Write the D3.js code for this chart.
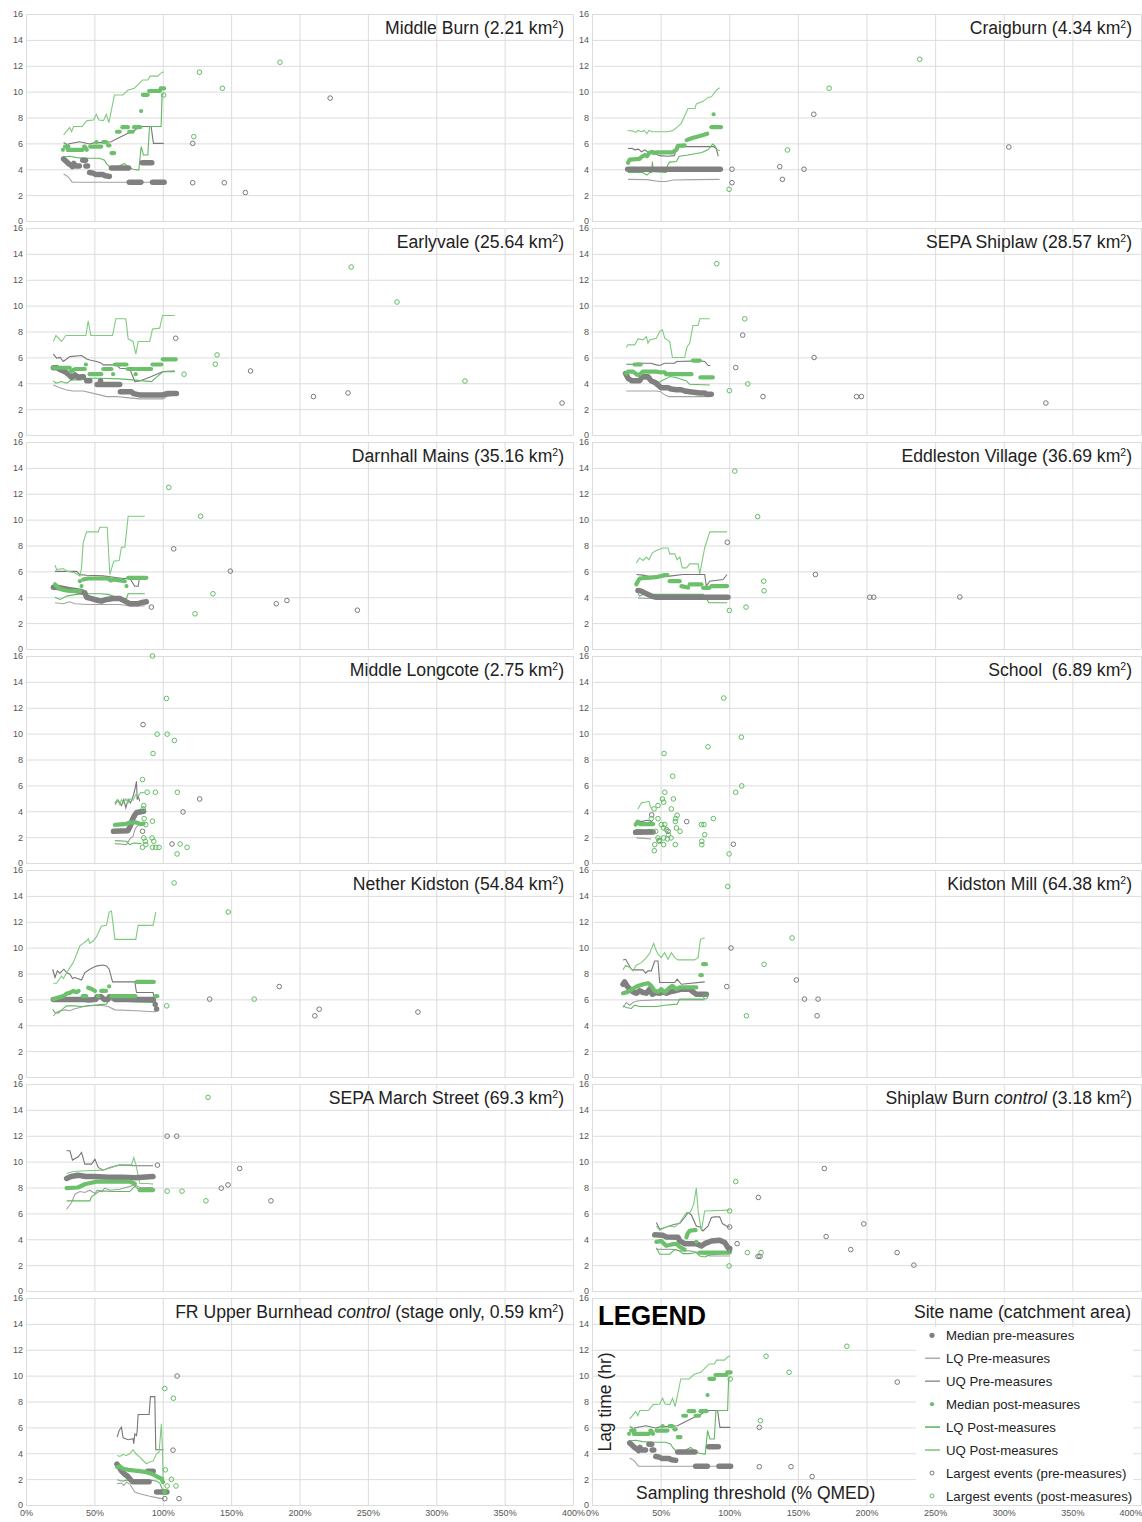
<!DOCTYPE html>
<html><head><meta charset="utf-8">
<script src="https://cdn.jsdelivr.net/npm/d3@7"></script>
<style>body{margin:0;background:#fff}svg{display:block;font-family:"Liberation Sans",Arial,Helvetica,sans-serif}</style>
</head><body><svg id="c" width="1142" height="1522"></svg>
<script>
// ---------- DATA ----------
const siteNames = ["Middle Burn","Craigburn","Earlyvale","SEPA Shiplaw","Darnhall Mains","Eddleston Village","Middle Longcote","School ","Nether Kidston","Kidston Mill","SEPA March Street","Shiplaw Burn","FR Upper Burnhead"];
const siteItalic = ["","","","","","","","","","","","control","control"];
const siteNote = ["","","","","","","","","","","","","stage only, "];
const siteAreas = ["2.21","4.34","25.64","28.57","35.16","36.69","2.75","6.89","54.84","64.38","69.3","3.18","0.59"];
const xTicks = [0,50,100,150,200,250,300,350,400];
const yTicks = [0,2,4,6,8,10,12,14,16];
const legendLabels = ["Median pre-measures","LQ Pre-measures","UQ Pre-measures","Median post-measures","LQ Post-measures","UQ Post-measures","Largest events (pre-measures)","Largest events (post-measures)"];

// median series: lists of runs of [threshold %, lag hr]
const preMedian = [
 [[[27.5,4.8],[29.5,4.6],[31,4.45],[33,4.3],[34,4.2],[35,4.45],[36,4.25],[39,4.25]],[[41.5,4.7],[43.5,4.7]],[[43.8,4.25],[45,4.25]],[[46.5,3.75],[49,3.7],[51,3.6],[56,3.6],[58,3.5],[61,3.45]],[[62.5,4.1],[75,4.1]],[[75.5,3.0],[84,3.0]],[[85,4.5],[92,4.5]],[[92.5,3.0],[101,3.0]]],
 [[[26,4.0],[93.5,4.0]]],
 [[[20,5.2],[22.5,5.2],[25,5.05],[28.5,4.9],[31,4.7],[33.3,4.45],[35.8,4.65],[38.2,4.45],[40.6,4.5],[42,4.5]],[[44.3,4.2],[46.7,4.2]],[[54.5,4.2]],[[52,3.9],[68.5,3.9]],[[69,3.35],[77,3.35],[78.5,3.2],[83,3.1],[100,3.1],[103,3.2],[110,3.2]]],
 [[[24.5,4.75],[26.2,4.4],[28.7,4.2],[34.8,4.2],[36.5,4.5],[40.8,4.5],[43,4.2],[46,4.05],[48,3.87],[50.5,3.65],[55.4,3.65],[57.8,3.55],[61.5,3.5],[65,3.5],[67.6,3.4],[71.2,3.35],[78.5,3.25],[82,3.25],[83.5,3.15],[86.9,3.15]]],
 [[[20,4.78],[23.6,4.75],[27.3,4.68],[30.9,4.6],[34.5,4.55],[39.4,4.47],[43,4.34],[44.3,4.0],[47.9,3.9],[52.8,3.75],[55.2,3.7],[58.9,3.83],[63.7,3.9],[68.6,3.9],[72.3,3.7],[75.9,3.5],[82,3.5],[84,3.57],[88,3.65]]],
 [[[33.5,4.52],[36,4.47],[38.4,4.34],[43.2,4.09],[46.9,4.0],[99.1,4.0]]],
 [[[64,2.45],[74.5,2.5],[76,2.8],[78,3.4],[79.5,3.7],[81,3.9],[86,4.0]]],
 [[[31.8,2.37],[44.5,2.4]]],
 [[[20,6.0],[40,6.0],[46,5.95],[51,6.0],[52,6.2],[55,6.2],[57,6.0],[60,6.0],[61,6.2],[64,6.2],[65,6.0],[93,6.0]],[[94.5,5.6]],[[95.5,5.25]]],
 [[[22.6,7.17],[23.8,7.35],[25.5,7.04],[27.5,6.79],[29.9,6.58],[32.3,6.48],[34.7,6.66],[37.2,6.53],[39.6,6.48],[42,6.79],[44,6.4],[46.4,6.53],[49.3,6.48],[51.8,6.58],[54.2,6.48],[56.6,6.58],[60.3,6.66],[65.1,6.79],[71.2,6.79],[73.6,6.58],[76,6.4],[83.3,6.4]]],
 [[[29.7,8.7],[33,8.85],[38,8.95],[44,8.85],[50,8.85],[60,8.8],[70,8.8],[80,8.75],[92.9,8.85]]],
 [[[45.7,4.34],[51.8,4.3],[54.2,4.18],[62.7,4.15],[63.9,3.87],[67.5,3.66],[76,3.66],[79.7,3.48],[82.1,3.66],[87,3.87],[93,3.92],[96.7,3.74],[99.1,3.35],[100.3,3.3]]],
 [[[66.5,3.15],[68,2.95],[70,2.6],[72,2.4],[74,2.25],[76,2.0],[78,1.8],[90,1.8]],[[89,2.6],[93,2.6]],[[95.5,1.0],[103,1.0]]]
];
const preLQ = [
 [[27.5,3.63],[30.7,3.43],[33.8,3.0],[83,3.0],[100.7,3.0]],
 [[26.2,3.22],[40,3.2],[49,3.05],[54,3.05],[59,3.17],[75,3.2],[93,3.22]],
 [[20,3.87],[24.8,3.66],[29.7,3.48],[34.5,3.4],[41.8,3.4],[54,3.1],[58.9,2.97],[66.2,2.97],[73.5,2.89],[83.2,2.79],[100.2,2.79],[103,2.97],[108.8,3.1]],
 [[25,3.4],[47,3.4],[50,3.35],[53,3.1],[56,2.97],[86,2.97]],
 [[21.2,3.57],[27.3,3.5],[32,3.65],[35.8,3.5],[44.3,3.44],[68.6,3.44],[75.9,3.32],[86.9,3.32]],
 [[33.5,3.95],[40,3.9],[46.9,3.95],[98.4,3.95]],
 [[65,1.5],[73.5,1.42],[75.9,1.86],[78.3,2.06],[79.6,2.58],[80.8,2.79],[83.2,2.97]],
 [[32.3,1.94],[38,1.9],[43.2,1.85]],
 [[20,4.73],[22.4,4.99],[24.8,5.12],[28.5,5.19],[32.1,5.12],[34.5,5.24],[39.4,5.37],[44.3,5.5],[54,5.55],[60.1,5.45],[65,5.19],[80.8,5.12],[92.9,5.04],[95.4,5.04]],
 [[22.6,5.37],[25,5.76],[27.5,5.55],[29.9,5.76],[33.5,5.89],[46.9,5.96],[82.1,5.96]],
 [[29.7,6.32],[33.3,6.84],[35.8,7.48],[39.4,7.69],[43,7.61],[46.7,7.79],[50.4,7.54],[52,7.79],[55.2,7.69],[57.7,7.95],[61.3,7.79],[68.6,7.87],[79.6,8.2],[83.2,8.0],[92.9,8.0]],
 [[46.9,3.22],[59,3.22],[63.9,3.1],[71.2,3.1],[78.5,2.97],[85.8,2.71],[100.3,2.71]],
 [[66.7,1.65],[69.8,1.7],[71.5,1.52],[73.5,1.77],[76,1.6],[79.6,1.0],[83.2,0.87],[90.5,0.67],[95.4,0.57],[99,0.49],[100.7,0.49]]
];
const preUQ = [
 [[27.5,6.06],[29.5,5.95],[30.2,5.35],[30.9,5.95],[39.2,6.13],[46.5,5.95],[50.2,6.06],[56.2,6.06],[62.3,6.13],[67.2,6.39],[74.5,6.78],[78.1,6.9],[83,7.3],[91.5,7.3],[93.2,6.0],[100.7,6.0]],
 [[26.2,5.6],[29,5.62],[31,5.5],[34,5.55],[36,5.35],[38.5,5.5],[41,5.3],[45,5.25],[49.3,5.05],[55,5.0],[60,5.05],[62,5.7],[65,5.75],[88.5,5.75],[90.5,5.6],[92,5.0]],
 [[20,6.25],[22.4,5.94],[25,6.0],[27.3,5.68],[32.1,6.06],[40.6,6.14],[44.3,5.88],[46.7,5.8],[51.6,5.68],[55.2,5.55],[56.4,5.42],[66.2,5.42],[68.6,5.16],[75.9,5.1],[79.6,4.13],[83.2,4.18],[91.7,4.52],[100.2,4.9],[108.8,4.95]],
 [[25,5.47],[31.1,5.47],[33.5,5.55],[43,5.55],[46.9,5.42],[49.3,5.37],[53,5.55],[60.3,5.55],[61.5,5.68],[78.5,5.73],[82.1,5.68],[84.6,5.37],[86.2,5.37]],
 [[21.2,6.0],[37,6.0],[39.4,5.75],[44.3,5.7],[56.4,5.65],[71,5.45],[76,5.45],[79.5,4.85],[82,4.85],[83,5.5],[86.9,5.5]],
 [[32.3,5.76],[37,5.71],[44.5,5.55],[56.6,5.63],[66.3,5.76],[82.1,5.76],[83.3,4.86],[85.8,5.24],[95.5,5.37],[98.4,5.76]],
 [[65,4.52],[67.4,4.85],[69.8,4.44],[71.5,4.9],[73,4.26],[74.7,4.9],[76.4,4.65],[78.3,5.16],[79.6,5.68],[80.8,6.32],[81.3,4.9],[82,5.16],[83.2,4.77]],
 [[32,3.3],[36,3.2],[40,3.3],[44,3.2]],
 [[19.5,8.33],[21.2,7.69],[22.9,8.2],[24.8,8.02],[27.7,8.33],[29.7,8.07],[32.1,7.94],[34,7.61],[35.8,7.69],[40.6,7.5],[43,8.07],[46.7,8.33],[49.1,8.46],[52,8.59],[56.4,8.66],[58.9,8.59],[60.8,8.33],[63.3,7.35],[79.6,7.35],[80.8,6.53],[92.9,6.53],[94.9,5.76]],
 [[22.6,9.05],[24.5,9.1],[27,8.64],[28.7,8.33],[30.4,8.28],[37.2,8.28],[39.1,8.02],[40.8,8.2],[43.2,8.2],[45.7,8.97],[48.1,8.97],[49.3,7.3],[60.3,7.3],[62,7.56],[65.1,7.17],[82.1,7.35]],
 [[29.7,10.84],[32.1,10.84],[34,10.12],[38.2,10.37],[40.6,10.71],[43,9.81],[47.9,9.81],[50.4,10.19],[52.8,9.55],[56.4,9.34],[61.3,9.55],[68.6,9.75],[79.6,9.68],[92.9,9.68]],
 [[46.9,5.29],[49.3,4.77],[54.2,4.95],[60.3,5.16],[63.9,5.21],[67.5,5.68],[70,6.06],[72.4,5.88],[76,5.03],[78.5,4.95],[80.9,4.65],[84.6,5.03],[87,5.68],[89.4,5.73],[93,5.73],[95,5.21],[97.9,5.03],[100.3,4.95]],
 [[66.7,5.24],[68.1,5.76],[69.8,6.02],[71,5.19],[74.7,5.04],[78.3,5.12],[78.8,4.73],[79.6,5.5],[80.8,5.37],[81.3,5.76],[82,6.99],[90,6.99],[91,8.38],[94.2,8.38],[94.9,4.27],[100.7,4.27]]
];
const postMedian = [
 [[[27,5.5]],[[28.5,5.75],[31,5.75]],[[30.5,5.5],[41.5,5.5]],[[42.5,5.75],[43,5.75],[44.5,5.5]],[[47,5.75],[55,5.75]],[[51.5,6.1]],[[56.5,6.1],[58.5,6.1]],[[60,5.85],[61,5.85]],[[62.5,5.25],[64.5,5.25]],[[66.5,6.9],[68.5,6.9]],[[70.5,7.25],[74.5,7.25]],[[75.5,6.9],[78,6.9]],[[79,7.25],[83.5,7.25]],[[84.2,8.5]],[[85.5,9.75],[89,9.75]],[[90,10.05],[98,10.05]],[[98.5,10.25],[101,10.25]]],
 [[[26.2,4.5],[27.5,4.75],[34.5,4.8],[36,4.95],[38.5,5.1],[40,5.0],[41.5,5.25],[44,5.35],[45,5.25],[46.5,5.3],[58.5,5.3],[61.5,5.5],[62.5,5.8],[67.5,5.85]],[[69,6.25],[72.5,6.4],[76,6.5],[81,6.65],[84,6.75]],[[87,7.25],[94,7.25]],[[88.6,8.25]]],
 [[[20,5.2],[32,5.2]],[[32.5,4.9],[35,5.05],[36.5,5.1],[43,5.1]],[[43.8,5.45]],[[46.5,4.7],[55,4.7]],[[56.5,5.1],[62.5,5.1]],[[63.7,4.7]],[[65,5.45],[73.5,5.45]],[[74.5,5.1],[79.5,5.1]],[[80.2,4.7]],[[81,5.1],[91.5,5.1]],[[92.5,5.45],[99,5.45]],[[100,5.85],[109.5,5.85]]],
 [[[24.8,4.75],[26.2,4.9],[30,4.9],[33,4.65],[35,4.7],[37,4.9],[47,4.9],[49,4.85],[53,4.85],[54,4.7],[72.5,4.7]],[[31,5.45],[35.5,5.45]],[[73.5,5.75],[78.5,5.75]],[[79,4.45],[88,4.45]]],
 [[[21.2,5.0],[23.6,4.73],[26,4.6],[29.7,4.52],[34.5,4.47],[39.4,4.47]],[[40.6,4.86]],[[39.4,5.24]],[[41.8,5.37],[45.5,5.45],[60,5.45],[62,5.3],[64.2,5.37],[68.6,5.3],[72.3,5.24]],[[73.5,4.86]],[[74.7,5.5],[88,5.5]]],
 [[[32.3,5.0],[33.5,5.24],[34.7,5.45],[39.6,5.5],[46.9,5.55],[53,5.71],[55,5.71]],[[56.6,5.24],[63.9,5.24]],[[65.1,4.86],[70,4.75]],[[71.2,5.0],[79.7,5.0]],[[81,4.73],[85.5,4.73]],[[87,4.86],[98.4,4.86]]],
 [[[65,2.95],[72,3.0],[75,3.1],[80,3.15],[84,3.0],[86,3.05]]],
 [[[31.8,2.97],[33.5,3.2],[35,3.0],[44.5,3.0]]],
 [[[20,6.0],[23.6,6.15],[27.3,6.25],[29.7,6.45],[32,6.5],[34.5,6.65],[37,6.55],[38.5,6.65]],[[41.5,6.25],[44,6.25]],[[45.5,6.9],[48,6.8],[50.5,6.65]],[[52.8,6.25]],[[55,6.65],[58.5,6.65]],[[60.8,7.0]],[[62.5,6.25],[80,6.25]],[[81,7.35],[93.5,7.35]],[[95,6.25],[96,6.25]]],
 [[[22.6,6.48],[26.2,6.58],[29.9,6.84],[33.5,7.04],[37.2,7.17],[40.8,7.25],[43.2,7.04],[45.7,6.66],[48.1,6.58],[50.5,6.79],[53,6.53],[56.6,6.92],[58.6,7.04],[61.5,6.79],[63.9,6.92],[76,6.92]],[[79,7.87],[80,7.87]],[[81,8.72],[83,8.72]]],
 [[[29.7,7.95],[38,8.0],[43,8.25],[47,8.35],[51.6,8.45],[76,8.45],[79.6,8.3]],[[83,7.8],[93,7.8]]],
 [[[46.9,3.8],[50.5,3.87],[54,3.5],[58,3.6],[61.5,3.65],[64,3.4],[67.5,3.2]],[[68.8,4.15],[69.5,4.4],[71.2,4.65],[73.5,4.7],[75.5,4.7]],[[76,3.8]],[[78.5,2.97],[100.3,2.97]]],
 [[[66.7,2.93],[68.6,2.98],[71,2.8],[74.7,2.72],[78.3,2.67],[83.2,2.62],[88,2.54],[91.7,2.42],[94.2,2.29],[96.6,2.16],[99,2.03],[100.2,1.77]],[[101.5,1.0]]]
];
const postLQ = [
 [[28.2,4.97],[31.9,5.0],[36.8,4.9],[44.5,4.85],[53.8,4.85],[57.4,4.7],[58.7,4.45],[62.3,4.07],[64.7,4.07],[72,4.45],[74.5,4.2],[78.1,4.0],[82.5,3.94],[84.2,5.75],[85.9,5.1],[89.1,5.1],[90.3,7.3],[98.8,7.3],[99.5,9.74],[100.7,9.87]],
 [[26.2,3.75],[37,3.75],[40,3.55],[42,3.75],[43.5,3.75],[44,4.6],[44.7,3.8],[54,3.75],[55,4.3],[56.5,4.55],[61.5,4.6],[63.5,5.0],[70,5.1],[80,5.3],[84.5,5.5],[88,5.95],[89.5,5.8],[91,5.5],[93,5.45]],
 [[20,4.18],[21.9,4.0],[26,4.13],[29.7,4.0],[33.3,4.26],[40.6,4.26],[44.3,4.39],[54,4.39],[68.6,4.34],[78.3,4.26],[91.7,4.13],[100.2,4.9],[108.8,4.9]],
 [[25,4.26],[30,4.18],[34.8,4.39],[39.6,4.34],[43,4.26],[49.3,4.08],[51.8,4.26],[54,4.34],[56.6,4.52],[61,4.44],[68.8,4.18],[71.2,3.92],[85.8,3.87]],
 [[21.2,4.0],[24.8,3.83],[29.7,4.09],[37,4.22],[44.3,4.27],[54,4.27],[60.1,4.22],[68.6,3.9],[73.5,3.9],[74.7,4.27],[86.9,4.27]],
 [[33.5,4.27],[34.7,4.1],[37,4.22],[46.9,4.22],[81,4.22],[85.3,3.57],[98.4,3.57]],
 [[65,1.73],[73.5,1.68],[75.9,1.42],[79,1.55],[84.4,1.5]],
 [[32,2.6],[38,2.55],[44,2.6]],
 [[19.5,5.24],[21.2,4.99],[23.6,4.94],[27.3,5.3],[29.7,5.5],[34.5,5.5],[41.8,5.45],[49.1,5.55],[58.9,5.63],[60.8,6.02],[63.7,5.89],[80.8,5.81],[92.9,5.76],[95.4,5.63]],
 [[22.6,5.5],[25,5.37],[28.7,5.3],[31.1,5.55],[34.7,5.45],[46.9,5.45],[53,5.55],[62,5.63],[63.9,6.02],[82.1,6.02]],
 [[29.7,6.97],[46.7,6.97],[47.9,7.28],[54,7.74],[63.7,7.69],[75.9,7.69],[79.6,8.1],[83.2,7.79],[92.9,7.74]],
 [[46.9,3.35],[49.3,2.84],[56.6,2.84],[60.3,3.22],[63.9,3.1],[66.3,2.89],[71.2,2.89],[76,2.97],[78.5,2.71],[82.1,2.63],[85.8,2.79],[95.4,2.89],[100.3,2.97]],
 [[66.7,1.95],[68.6,1.9],[71,1.85],[74.7,1.95],[78.3,1.77],[83.2,1.9],[86.9,1.95],[91.7,1.9],[95.4,1.85],[97.8,1.7],[99,1.39],[100.7,1.0]]
];
const postUQ = [
 [[27.5,6.65],[31.9,7.22],[33.4,6.91],[34.8,7.3],[41.1,7.3],[44.5,7.76],[49.4,7.81],[51.4,8.25],[53.3,7.81],[56.7,7.76],[58.7,8.25],[60.6,7.6],[64.7,9.74],[70.8,9.74],[74.5,10.1],[79.3,10.26],[85.4,10.9],[89.1,10.9],[90.8,11.2],[96.4,11.2],[99.5,11.5],[100.7,11.5]],
 [[26,7.0],[30,6.95],[32,6.85],[33.5,7.0],[36,6.9],[38,7.0],[40,6.75],[41.5,7.0],[44,6.9],[55,6.9],[59,7.0],[62,7.25],[65,7.55],[70,8.7],[75,8.7],[76,9.05],[81,9.25],[84.5,9.55],[87,9.6],[90.5,10.1],[93,10.3]],
 [[20,7.23],[21.9,7.69],[26,7.23],[29.2,7.69],[43.8,7.69],[45.5,8.83],[47.4,7.69],[63.3,7.69],[65.7,8.98],[73,8.98],[74.7,7.43],[78.3,7.23],[80.3,6.25],[82,7.23],[90.5,7.23],[92.5,8.2],[97.8,8.26],[99.8,9.24],[108.8,9.24]],
 [[25,6.76],[26.2,6.97],[31.1,6.97],[33.5,7.43],[37.2,7.35],[39.6,7.61],[40.8,7.1],[42,7.35],[46.9,7.48],[49.3,8.0],[51.3,8.13],[53,7.48],[56.6,7.22],[58.6,5.99],[67.5,5.99],[69.2,6.8],[71.2,7.1],[73.6,8.46],[77.3,8.46],[78.5,8.98],[85.8,8.98]],
 [[21.2,6.48],[22.4,6.14],[27.3,6.22],[29.7,6.02],[35.8,5.89],[39.4,5.63],[40.6,6.27],[41.8,8.2],[44.3,9.05],[52.8,9.05],[54,9.41],[59.4,9.41],[61.3,5.76],[64.2,6.79],[68.1,6.84],[69.8,7.87],[72.3,7.87],[74.7,10.26],[86.9,10.26]],
 [[32.3,6.66],[34.7,7.04],[37.2,6.84],[39.6,7.1],[41.5,6.9],[44,7.43],[46.9,7.61],[51.8,7.81],[55.4,7.81],[56.6,7.35],[60.3,7.35],[62,6.9],[64,7.1],[65.8,6.27],[68.8,6.27],[71.2,6.58],[77.3,6.58],[78.5,5.81],[82.1,7.81],[85.8,9.05],[98.4,9.05]],
 [[65,4.65],[66.7,4.9],[68.6,4.52],[69.8,4.9],[71.5,4.65],[73,4.95],[74.7,4.65],[75.9,4.95],[78.3,4.85],[80.3,5.29],[82,5.16],[83.7,5.42],[86.9,5.47]],
 [[33.5,4.18],[36,4.65],[38.4,4.7],[41.5,4.77],[42.5,4.39],[43.5,4.2]],
 [[20,7.25],[22.4,7.25],[26,7.81],[27.3,7.61],[32.1,8.46],[34.5,8.84],[37,9.49],[39.4,10.13],[41.8,10.33],[44.3,10.51],[45.5,10.69],[46.7,10.33],[49.1,10.51],[51.6,10.85],[55.2,11.67],[58.9,11.72],[60.8,12.75],[62.5,12.83],[65,10.64],[80.3,10.64],[82,11.72],[92.9,11.72],[94.9,12.75]],
 [[22.6,8.28],[24.5,8.64],[27.5,8.46],[29.9,8.2],[32.3,8.64],[36,8.84],[39.6,9.23],[42,9.56],[45,10.33],[46.4,9.87],[48.1,9.49],[50.5,9.23],[52.9,9.61],[55.4,9.1],[57.8,9.61],[60.3,9.23],[62.7,9.05],[74.8,9.05],[77.3,9.23],[79,10.64],[82.1,10.77]],
 [[29.7,9.08],[34.5,9.24],[44.3,9.29],[56.4,9.34],[68.6,9.75],[77.1,9.75],[78.8,10.32],[80.3,9.81],[83.2,8.31],[89.3,8.31],[92.9,8.26]],
 [[46.9,5.03],[49.3,4.7],[53,4.9],[56.6,5.03],[60.3,4.95],[63.9,5.29],[66.3,5.68],[68.8,6.06],[71.2,6.06],[72.4,6.25],[74.1,6.71],[76,7.95],[77.3,6.19],[79.7,4.65],[80.5,5.16],[82.1,6.19],[100.3,6.25]],
 [[66.7,3.83],[68.6,3.75],[71,3.9],[73.5,3.83],[75.9,3.96],[78.3,4.27],[80.3,3.96],[83.2,3.7],[85.6,3.44],[88,3.19],[90.5,3.32],[92.9,3.39],[95.4,3.96],[97.3,4.09],[99,6.27],[99.8,4.22],[100.2,2.29],[100.7,2.03]]
];
const preEvents = [
 [[121.9,6.0],[121.9,2.96],[145,2.96],[160.4,2.2],[222.4,9.5]],
 [[102,4.0],[102,2.96],[136.8,4.2],[138.7,3.22],[154.5,4.0],[161.6,8.25],[303.7,5.72]],
 [[109.5,7.48],[164.2,4.95],[210.2,2.97],[235.5,3.25],[392,2.47]],
 [[109.8,7.72],[104.7,5.21],[124.6,2.97],[161.8,5.99],[192.7,2.97],[196.3,2.97],[330.7,2.47]],
 [[108,7.74],[149.4,6.02],[91.7,3.24],[183,3.5],[190.8,3.75],[242.3,3.0]],
 [[98.6,8.25],[162.8,5.76],[202.4,4.0],[205.3,4.0],[268,4.02]],
 [[85.6,10.7],[114.8,3.95],[127,4.95],[106.8,1.47],[85.2,2.45]],
 [[43.5,3.72],[69,3.2],[103,1.45],[55.4,2.45],[48.8,1.73]],
 [[134.3,6.02],[185.2,6.99],[211.2,4.73],[214.4,5.24],[286.6,5.02]],
 [[101.3,9.97],[98.2,6.99],[148.9,7.5],[154.8,6.02],[164.7,6.02],[164,4.73]],
 [[96.1,9.73],[103.2,11.97],[110.2,11.97],[156.2,9.47],[142.8,7.95],[147.7,8.2],[179.1,6.97]],
 [[121.2,7.23],[100.3,4.95],[105.7,3.66],[100.3,3.17],[121,2.68],[122.4,2.68],[169.3,9.47],[170.6,4.21],[188.5,3.2],[198,5.19],[222.3,2.97],[234.5,2.0]],
 [[110.5,9.97],[107.5,4.24],[101.5,0.49],[111.9,0.49]]
];
const postEvents = [
 [[126.8,11.5],[143.6,10.26],[122.7,6.52],[100.7,9.74],[185.7,12.27]],
 [[99.9,2.45],[142.4,5.49],[172.8,10.26],[238.8,12.5]],
 [[115.6,4.7],[138.4,5.47],[139.7,6.19],[237.8,12.98],[271.3,10.28],[321,4.17]],
 [[90.9,13.24],[111.3,8.98],[113.5,3.95],[100.1,3.43]],
 [[104.4,12.49],[127.7,10.26],[136.7,4.27],[123.6,2.72]],
 [[104,13.75],[120.7,10.23],[125.1,5.24],[125.4,4.5],[112.2,3.24],[100.1,2.98]],
 [[92.5,16.0],[102.7,12.72],[95.9,9.96],[103.2,9.96],[108.5,9.47],[92.9,8.46],[85.2,6.45],[88.6,5.47],[94.6,5.47],[110.7,5.47],[86.1,4.44],[85.6,4.18],[86.4,3.43],[92.5,3.23],[87.6,2.97],[86.1,1.94],[92.2,1.94],[87.3,1.68],[93.4,1.68],[87.6,1.42],[85.2,1.21],[92.5,1.21],[94.9,1.21],[97.3,1.21],[112.7,1.47],[117.8,1.21],[110.5,0.7]],
 [[96,12.75],[108.8,9.73],[84.5,8.98],[52.5,8.46],[58.8,6.71],[109.1,5.96],[104.7,5.47],[53,5.47],[51.3,4.95],[59.3,4.95],[52.2,4.7],[48.1,4.44],[45.2,4.18],[57.8,4.18],[43.2,3.43],[48.1,3.43],[62,3.69],[61,3.43],[88.4,3.43],[50.5,2.97],[53,2.97],[60.7,3.2],[61.5,2.71],[79.7,2.97],[81.6,2.97],[46.4,2.45],[52.2,2.71],[54.2,2.58],[55.6,2.19],[64.1,2.45],[82.1,2.19],[48.1,1.94],[52.2,1.94],[54.9,1.86],[57.6,1.94],[49.3,1.68],[80,1.68],[45.7,1.42],[52.2,1.42],[60.7,1.42],[80,1.42],[45.4,0.95],[99.9,0.7]],
 [[108.3,15.0],[147.9,12.75],[166.9,6.02],[102.9,5.5]],
 [[98.9,14.73],[145.8,10.75],[125.4,8.71],[112.5,4.73],[82.8,6.22]],
 [[133.1,14.97],[103.2,7.72],[114.1,7.72],[131.6,6.97]],
 [[104.7,8.46],[100.3,6.19],[113.2,2.97],[123.2,2.97],[99.9,1.94]],
 [[101.5,9.0],[107.8,8.25],[101.9,2.72],[106.3,1.98],[103.2,1.47],[109.7,1.47],[101.5,1.0]]
];

// ---------- STYLE / LAYOUT ----------
const C = {grid:"#dcdcdc", tick:"#555", preMed:"#808080", preLQ:"#a3a3a3", preUQ:"#777777",
           postMed:"#6cc06c", postLQ:"#62b862", postUQ:"#7fcb7f", preEv:"#7a7a7a", postEv:"#62bd62", text:"#222"};
const COLS = [[26,573],[592,1141]];
const TOP = 14, PITCH = 214, PH = 207;
const svg = d3.select("#c");
const FF = '"Liberation Sans",Arial,Helvetica,sans-serif';
const TITLE_FS = 17.6;

function drawPanel(k, s, isLegend) {
  const row = Math.floor(k/2), col = k%2;
  const top = TOP + row*PITCH;
  const [x0,x1] = COLS[col];
  const x = d3.scaleLinear().domain([0,400]).range([x0,x1]);
  const y = d3.scaleLinear().domain([0,16]).range([top+PH, top]);
  const g = svg.append("g");

  const gy = g.append("g").attr("transform",`translate(${x0},0)`)
    .call(d3.axisLeft(y).tickValues(yTicks).tickSize(-(x1-x0)).tickSizeOuter(0).tickPadding(3));
  gy.attr("font-size",9).attr("font-family",FF);
  gy.select(".domain").attr("stroke",C.grid);
  gy.selectAll(".tick line").attr("stroke",C.grid);
  gy.selectAll(".tick text").attr("fill",C.tick);

  const gx = g.append("g").attr("transform",`translate(0,${top+PH})`)
    .call(d3.axisBottom(x).tickValues(xTicks).tickSize(-PH).tickSizeOuter(0).tickPadding(5)
      .tickFormat(row===6 ? (d=>d+"%") : ""));
  gx.attr("font-size",9).attr("font-family",FF);
  gx.select(".domain").attr("stroke",C.grid);
  gx.selectAll(".tick line").attr("stroke",C.grid);
  gx.selectAll(".tick text").attr("fill",C.tick);
  if (row===6 && col===1) gx.selectAll(".tick text").filter(d=>d===400).attr("text-anchor","end").attr("x",1);

  const line = d3.line().x(d=>x(d[0])).y(d=>y(d[1]));
  [[preLQ,C.preLQ],[preUQ,C.preUQ],[postLQ,C.postLQ],[postUQ,C.postUQ]].forEach(([arr,col])=>{
    g.append("path").attr("d",line(arr[s])).attr("fill","none").attr("stroke",col).attr("stroke-width",1.1);
  });
  function med(segs,color,w){
    segs.forEach(seg=>{
      if (seg.length===1) g.append("circle").attr("cx",x(seg[0][0])).attr("cy",y(seg[0][1])).attr("r",w/2).attr("fill",color);
      else g.append("path").attr("d",line(seg)).attr("fill","none").attr("stroke",color).attr("stroke-width",w)
            .attr("stroke-linecap","round").attr("stroke-linejoin","round");
    });
  }
  med(preMedian[s],C.preMed,5.5);
  med(postMedian[s],C.postMed,4.2);
  g.selectAll("circle.pre").data(preEvents[s]).join("circle").attr("class","pre")
    .attr("cx",d=>x(d[0])).attr("cy",d=>y(d[1])).attr("r",2.3).attr("fill","none").attr("stroke",C.preEv).attr("stroke-width",1);
  g.selectAll("circle.post").data(postEvents[s]).join("circle").attr("class","post")
    .attr("cx",d=>x(d[0])).attr("cy",d=>y(d[1])).attr("r",2.3).attr("fill","none").attr("stroke",C.postEv).attr("stroke-width",1);

  if (!isLegend) {
    const t = g.append("text").attr("x",x1-9).attr("y",top+20).attr("text-anchor","end")
      .attr("font-size",TITLE_FS).attr("fill",C.text).style("white-space","pre");
    t.append("tspan").text(siteNames[s]+" ");
    if (siteItalic[s]) { t.append("tspan").attr("font-style","italic").text(siteItalic[s]); t.append("tspan").text(" "); }
    t.append("tspan").text("("+siteNote[s]+siteAreas[s]+" km");
    t.append("tspan").attr("font-size",10.5).attr("dy",-6.5).text("2");
    t.append("tspan").attr("dy",6.5).text(")");
  } else {
    g.append("text").attr("x",598).attr("y",top+27).attr("font-size",28).attr("font-weight","bold")
      .attr("textLength",108).attr("lengthAdjust","spacingAndGlyphs").attr("fill","#000").text("LEGEND");
    g.append("text").attr("x",x1-10).attr("y",top+20).attr("text-anchor","end").attr("font-size",TITLE_FS)
      .attr("fill",C.text).text("Site name (catchment area)");
    g.append("text").attr("transform",`translate(611,${top+104}) rotate(-90)`).attr("text-anchor","middle")
      .attr("font-size",17.5).attr("fill",C.text).text("Lag time (hr)");
    g.append("text").attr("x",636).attr("y",top+201).attr("font-size",17.5).attr("fill",C.text)
      .text("Sampling threshold (% QMED)");
    g.append("rect").attr("x",916).attr("y",top+29).attr("width",217).attr("height",PH-29).attr("fill","#fff");
    const kinds = ["dotPre","linePreLQ","linePreUQ","dotPost","linePostLQ","linePostUQ","evPre","evPost"];
    legendLabels.forEach((lab,i)=>{
      const by = top+42+i*22.95, cy = by-4.7;
      const kd = kinds[i];
      if (kd==="dotPre") g.append("circle").attr("cx",932).attr("cy",cy).attr("r",2.6).attr("fill",C.preMed);
      if (kd==="dotPost") g.append("circle").attr("cx",932).attr("cy",cy).attr("r",2.1).attr("fill",C.postMed);
      if (kd.startsWith("line")) {
        const cc = {linePreLQ:"#b0b0b0",linePreUQ:"#9a9a9a",linePostLQ:"#62b862",linePostUQ:"#7fcb7f"}[kd];
        g.append("line").attr("x1",925).attr("x2",940).attr("y1",cy).attr("y2",cy).attr("stroke",cc).attr("stroke-width",1.6);
      }
      if (kd==="evPre") g.append("circle").attr("cx",932).attr("cy",cy).attr("r",2).attr("fill","none").attr("stroke",C.preEv);
      if (kd==="evPost") g.append("circle").attr("cx",932).attr("cy",cy).attr("r",2).attr("fill","none").attr("stroke",C.postEv);
      g.append("text").attr("x",946).attr("y",by).attr("font-size",13.2).attr("fill",C.text).text(lab);
    });
  }
}
for (let k=0;k<13;k++) drawPanel(k,k,false);
drawPanel(13,0,true);
</script></body></html>
